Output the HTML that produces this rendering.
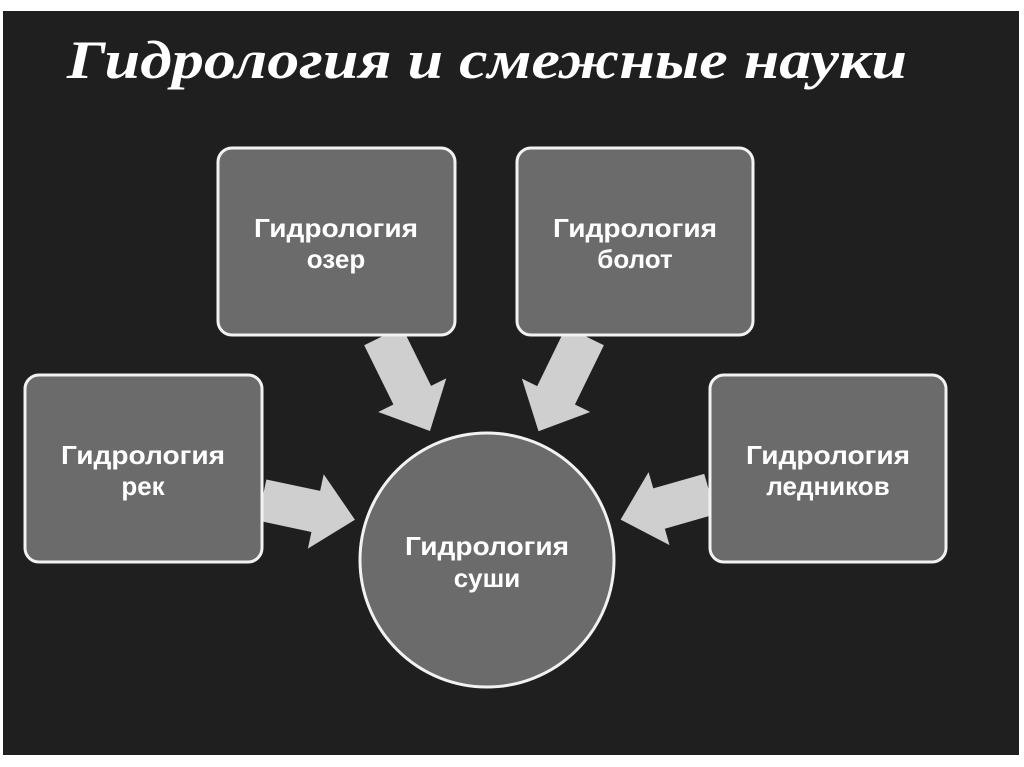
<!DOCTYPE html>
<html><head><meta charset="utf-8"><style>
html,body{margin:0;padding:0;background:#fff;}
svg{display:block;}
text{font-family:"Liberation Sans",sans-serif;font-weight:bold;fill:#fff;}
</style></head><body>
<svg width="1024" height="767" viewBox="0 0 1024 767">
<rect x="3" y="11" width="1016" height="744" fill="#1f1f1f"/>
<text x="487" y="78" text-anchor="middle" style="font-family:'Liberation Serif',serif;font-style:italic;font-weight:bold;font-size:54px;" fill="#eee" textLength="840" lengthAdjust="spacingAndGlyphs">Гидрология и смежные науки</text>
<g fill="#cfcfcf">
<polygon transform="translate(383,336) rotate(63.7)" points="0,-21 66,-21 66,-38 106,0 66,38 66,21 0,21"/>
<polygon transform="translate(585,336) rotate(116)" points="0,-21 66,-21 66,-38 106,0 66,38 66,21 0,21"/>
<polygon transform="translate(262,500) rotate(12)" points="0,-21 55,-21 55,-38 95,0 55,38 55,21 0,21"/>
<polygon transform="translate(710,494) rotate(164)" points="0,-21 53,-21 53,-38 93,0 53,38 53,21 0,21"/>
</g>
<g fill="#6b6b6b" stroke="#f2f2f2" stroke-width="3">
<rect x="218" y="148" width="237" height="187" rx="14"/>
<rect x="517" y="148" width="236" height="187" rx="14"/>
<rect x="25" y="375" width="237" height="187" rx="14"/>
<rect x="710" y="375" width="236" height="187" rx="14"/>
<circle cx="487" cy="560" r="127"/>
</g>
<g font-size="26" text-anchor="middle">
<text x="336" y="237" textLength="164" lengthAdjust="spacingAndGlyphs">Гидрология</text><text x="336" y="268">озер</text>
<text x="635" y="237" textLength="164" lengthAdjust="spacingAndGlyphs">Гидрология</text><text x="635" y="268">болот</text>
<text x="143" y="464" textLength="164" lengthAdjust="spacingAndGlyphs">Гидрология</text><text x="143" y="495">рек</text>
<text x="828" y="464" textLength="164" lengthAdjust="spacingAndGlyphs">Гидрология</text><text x="828" y="495">ледников</text>
<text x="487" y="555" textLength="164" lengthAdjust="spacingAndGlyphs">Гидрология</text><text x="487" y="587">суши</text>
</g>
</svg>
</body></html>
